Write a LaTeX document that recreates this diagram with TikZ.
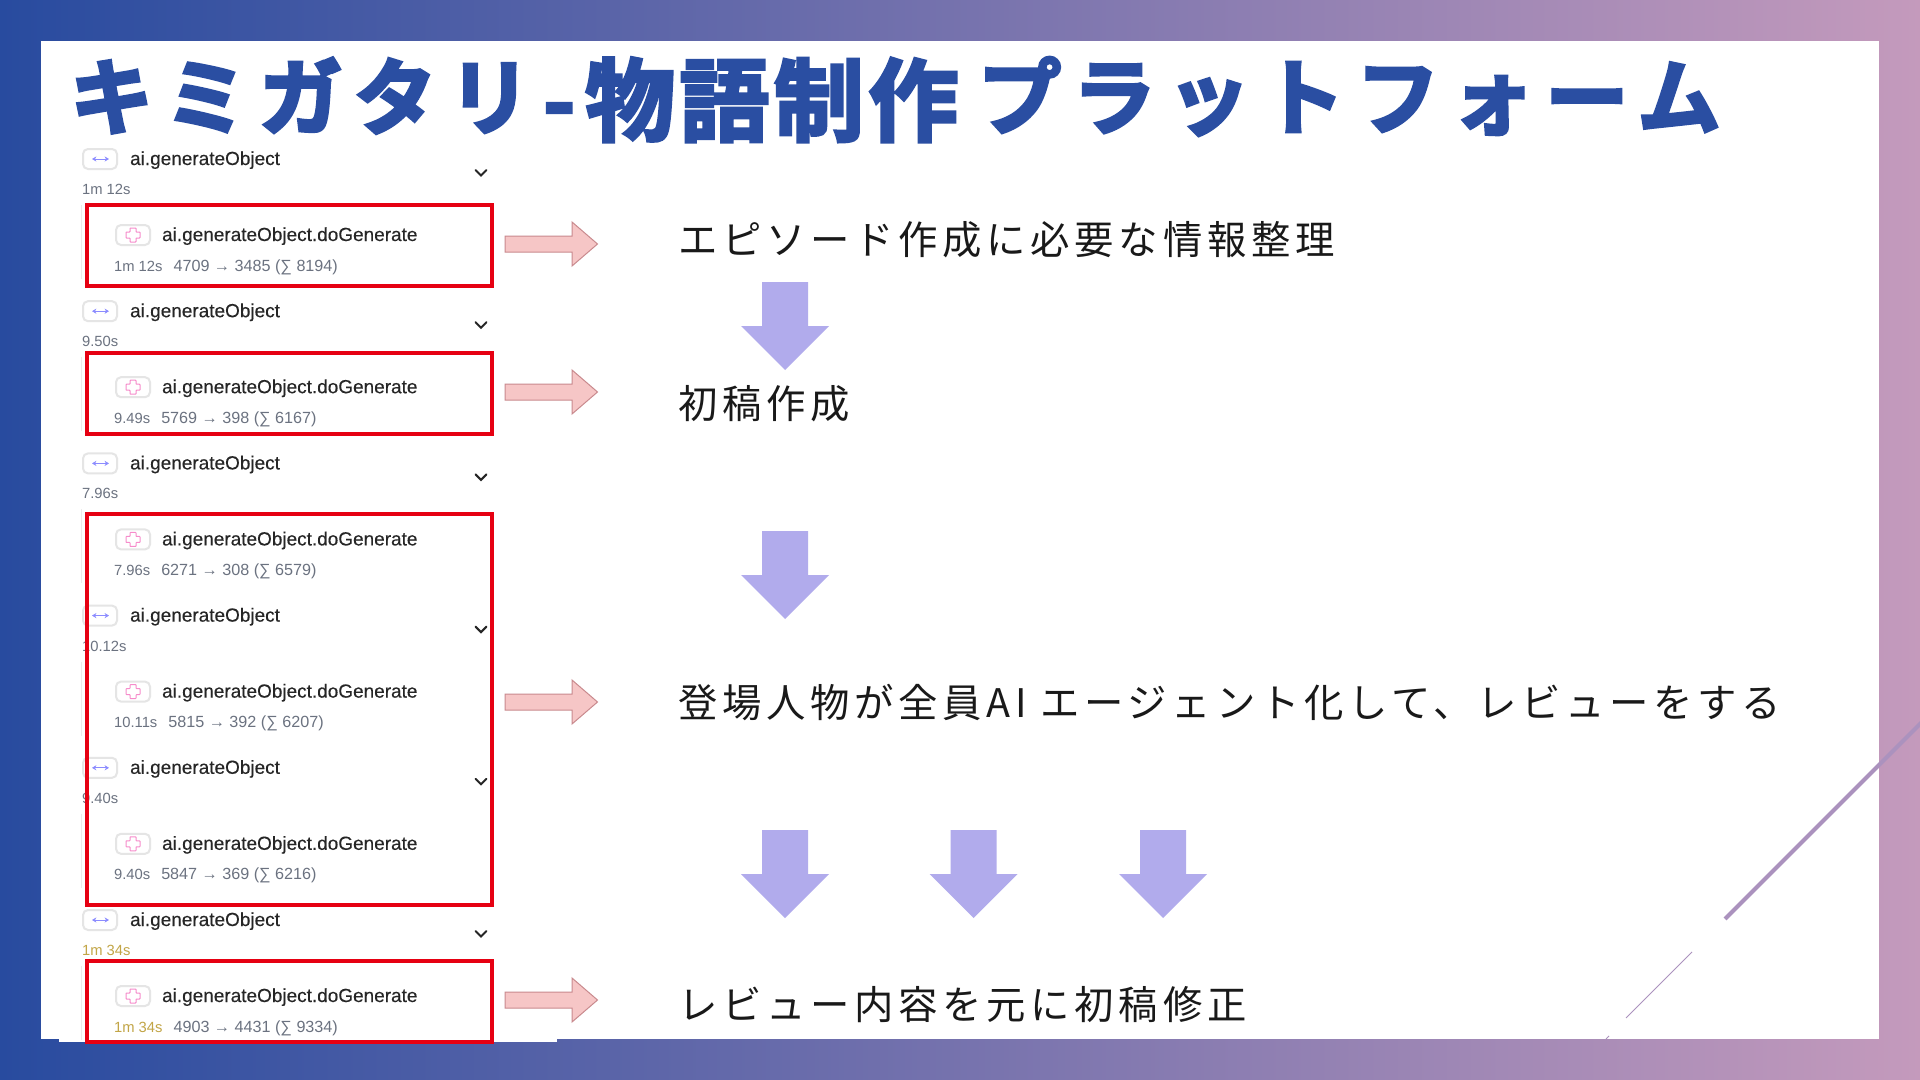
\documentclass[tikz,border=0pt]{standalone}
\usepackage{fontspec}
\usetikzlibrary{arrows.meta}
\setmainfont{Liberation Sans}
\newfontfamily\jpfont[LetterSpace=12]{Noto Sans CJK JP}
\newfontfamily\headfont[FakeBold=3.5,LetterSpace=5]{Noto Sans CJK JP Bold}
\newfontfamily\kanafont[FakeBold=4,LetterSpace=14]{Noto Sans CJK JP Bold}
\newfontfamily\uifont[FakeBold=0.25]{Liberation Sans}
\definecolor{bgleft}{HTML}{284B9F}
\definecolor{bgmid}{HTML}{9A8CC0}
\definecolor{bgright}{HTML}{C49ABC}
\definecolor{headblue}{HTML}{2A4EA2}
\definecolor{framered}{HTML}{E60012}
\definecolor{pinkfill}{HTML}{F6C6C6}
\definecolor{pinkedge}{HTML}{C98A8E}
\definecolor{downfill}{HTML}{B1ABEC}
\definecolor{timegray}{HTML}{6B7280}
\definecolor{timeyellow}{HTML}{C2A546}
\definecolor{deco}{HTML}{AB92BE}
\tikzset{
  uitext/.style={anchor=base west,inner sep=0pt,font=\uifont\fontsize{27}{30}\selectfont,text=black!85},
  uismall/.style={anchor=base west,inner sep=0pt,font=\fontsize{21}{24}\selectfont,text=timegray},
  steptext/.style={anchor=base west,inner sep=0pt,font=\jpfont\fontsize{56}{60}\selectfont,text=black!90},
  headtext/.style={anchor=base west,inner sep=0pt,text=headblue},
  iconbox/.style={draw=black!10,line width=1mm,rounded corners=2.5mm,fill=white,minimum width=17mm,minimum height=10mm,inner sep=0pt},
  redframe/.style={draw=framered,line width=1.8mm},
  rightarrow/.style={fill=pinkfill,draw=pinkedge,line width=0.5mm},
  downarrow/.style={fill=downfill}
}
\begin{document}
\begin{tikzpicture}[x=0.5mm,y=-0.5mm]
\useasboundingbox (0,0) rectangle (1920,1080);
\shade[left color=bgleft,middle color=bgmid,right color=bgright] (0,0) rectangle (1920,1080);
\fill[white] (41,41) rectangle (1879,1039);
\fill[white] (59,1039) rectangle (557,1042);
% decoration
\draw[deco,line width=2mm] (1725,919) -- (1925,719);
\draw[deco,line width=0.4mm] (1626,1018) -- (1692,952);
\draw[deco,line width=0.4mm] (1606,1039) -- (1609,1036);
\node[headtext,font=\kanafont\fontsize{118}{130}\selectfont] (titlea) at (70,128) {キミガタリ};
\node[headtext,font=\headfont\fontsize{124}{130}\selectfont] (titleb) at (543,133) {-};
\node[headtext,font=\headfont\fontsize{128}{140}\selectfont] (titlec) at (585,134) {物語制作};
\node[headtext,font=\kanafont\fontsize{118}{130}\selectfont] (titled) at (978,128) {プラットフォーム};
% screenshot rows
\foreach \ot/\gt/\st/\tc [count=\i] in {1m 12s/1m 12s/4709 → 3485 (∑ 8194)/timegray,
    9.50s/9.49s/5769 → 398 (∑ 6167)/timegray,
    7.96s/7.96s/6271 → 308 (∑ 6579)/timegray,
    10.12s/10.11s/5815 → 392 (∑ 6207)/timegray,
    9.40s/9.40s/5847 → 369 (∑ 6216)/timegray,
    1m 34s/1m 34s/4903 → 4431 (∑ 9334)/timeyellow}{
  \pgfmathsetmacro{\ya}{159+152.2*(\i-1)}
  \draw[black!8,line width=0.5mm] (81,\ya+46) -- (81,\ya+120);
  \node[iconbox] (span\i) at (100,\ya) {};
  \draw[{Stealth[length=2.2mm,width=2.6mm]}-{Stealth[length=2.2mm,width=2.6mm]},color=blue!45,line width=0.5mm] (92,\ya) -- (109,\ya);
  \node[uitext] (obj\i) at (130,\ya+6) {ai.generateObject};
  \node[uismall,text=\tc] (objtime\i) at (82,\ya+35.5) {\ot};
  \draw[black!85,line width=1mm,line cap=round] (475.5,\ya+11) -- (481,\ya+16.5) -- (486.5,\ya+11);
  \node[iconbox] (model\i) at (133,\ya+76) {};
  \draw[magenta!45,line width=0.5mm,rounded corners=0.3mm] (130,\ya+69) -- (136,\ya+69) -- (136,\ya+73) -- (140,\ya+73) -- (140,\ya+79) -- (136,\ya+79) -- (136,\ya+83) -- (130,\ya+83) -- (130,\ya+79) -- (126,\ya+79) -- (126,\ya+73) -- (130,\ya+73) -- cycle;
  \node[uitext] (gen\i) at (162,\ya+82) {ai.generateObject.doGenerate};
  \node[uismall] (stat\i) at (114,\ya+112) {{\color{\tc}\gt}\hspace{5.5mm}{\fontsize{23}{24}\selectfont\st}};
}
% red frames
\draw[redframe] (87,205) rectangle (492,286);
\draw[redframe] (87,353) rectangle (492,434);
\draw[redframe] (87,514) rectangle (492,905);
\draw[redframe] (87,961) rectangle (492,1042);
% pink arrows
\foreach \y in {244,392,702,1000}{
  \draw[rightarrow] (505,\y-8) -- (572,\y-8) -- (572,\y-22) -- (597.5,\y) -- (572,\y+22) -- (572,\y+8) -- (505,\y+8) -- cycle;
}
% purple arrows
\foreach \x/\y in {785/282,785/531,785/830,973.5/830,1163/830}{
  \fill[downarrow] (\x-23,\y) -- (\x+23,\y) -- (\x+23,\y+44) -- (\x+44,\y+44) -- (\x,\y+88) -- (\x-44,\y+44) -- (\x-23,\y+44) -- cycle;
}
\node[steptext] (info) at (678,254) {エピソード作成に必要な情報整理};
\node[steptext] (draft) at (678,418) {初稿作成};
\node[steptext] (agents) at (678,717) {登場人物が全員AI エージェント化して、レビューをする};
\node[steptext] (revise) at (678,1019) {レビュー内容を元に初稿修正};
\end{tikzpicture}
\end{document}
